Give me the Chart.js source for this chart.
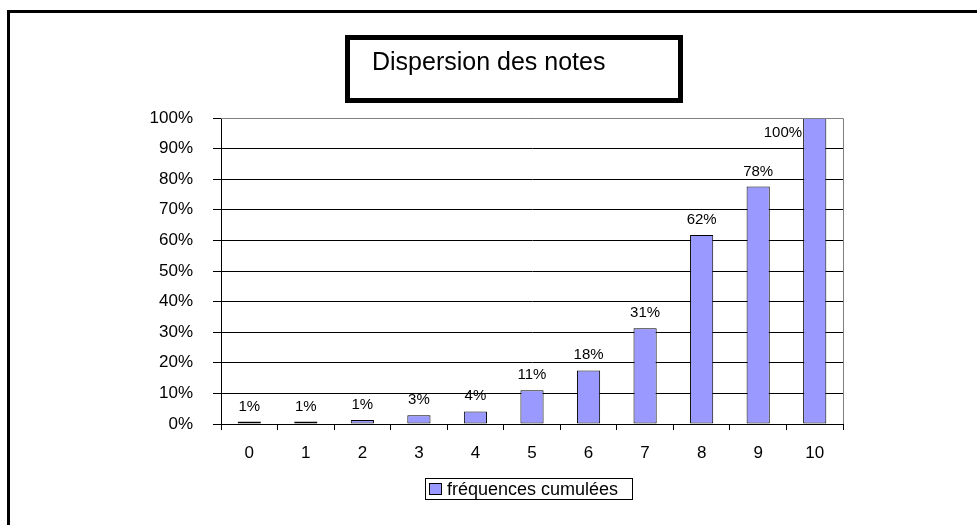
<!DOCTYPE html>
<html>
<head>
<meta charset="utf-8">
<script src="https://cdn.jsdelivr.net/npm/chart.js@4/dist/chart.umd.min.js"></script>
<style>
  html,body{margin:0;padding:0;background:#fff;}
  #wrap{position:relative;width:977px;height:525px;}
</style>
</head>
<body>
<div id="wrap"><canvas id="chartNotes"></canvas></div>
<script>
// ================= DATA =================
const notes      = ["0","1","2","3","4","5","6","7","8","9","10"];
const freqCumul  = [0.8, 0.8, 1.3, 2.9, 4.1, 11, 17.5, 31.3, 61.8, 77.6, 100];
const serieLabel = "fréquences cumulées";
const titre      = "Dispersion des notes";

const FONT = "Arial, 'Liberation Sans', sans-serif";
const barColor = "#9999FF";

// ================= DECOR (cadre, titre, legende, bord gris) =================
const decor = {
  id:"decor",
  beforeDraw(chart){
    const c = chart.ctx;
    c.save();
    // cadre exterieur
    c.strokeStyle="#000"; c.lineWidth=3;
    c.strokeRect(8.5,11.5,1000,600);
    // boite du titre
    c.lineWidth=5;
    c.strokeRect(347.5,37.5,333,63);
    c.fillStyle="#000";
    c.font="25px "+FONT;
    c.textBaseline="alphabetic";
    c.textAlign="left";
    c.fillText(titre,372,70);
    c.restore();
  },
  afterDraw(chart){
    const c = chart.ctx, a = chart.chartArea;
    c.save();
    // bord haut + droit du plot en gris
    c.strokeStyle="#808080"; c.lineWidth=1;
    c.beginPath();
    c.moveTo(a.left,a.top+0.5); c.lineTo(a.right+0.5,a.top+0.5);
    c.lineTo(a.right+0.5,a.bottom);
    c.stroke();
    // legende
    const ds = chart.data.datasets[0];
    c.strokeStyle="#000";
    c.strokeRect(425.5,478.5,207,21);
    c.fillStyle=ds.backgroundColor;
    c.fillRect(429.5,483.5,12,11);
    c.strokeRect(429.5,483.5,12,11);
    c.fillStyle="#000";
    c.font="18px "+FONT;
    c.textBaseline="middle";
    c.fillText(ds.label,447,490);
    c.restore();
  }
};

// ================= ETIQUETTES DES BARRES =================
const etiquettes = {
  id:"etiquettes",
  afterDatasetsDraw(chart){
    const c = chart.ctx, a = chart.chartArea;
    const meta = chart.getDatasetMeta(0);
    const vals = chart.data.datasets[0].data;
    c.save();
    c.fillStyle="#000";
    c.font="15px "+FONT;
    c.textBaseline="alphabetic";
    meta.data.forEach((bar,i)=>{
      const txt = Math.round(vals[i])+"%";
      const y = bar.y-11;
      if(y-12 < a.top){
        // pas de place au-dessus : a gauche de la barre
        c.textAlign="right";
        c.fillText(txt,bar.x-bar.width/2-1,a.top+19);
      }else{
        c.textAlign="center";
        c.fillText(txt,bar.x,y);
      }
    });
    c.restore();
  }
};

// ================= CHART =================
new Chart(document.getElementById("chartNotes"),{
  type:"bar",
  data:{
    labels:notes,
    datasets:[{
      label:serieLabel,
      data:freqCumul,
      backgroundColor:barColor,
      borderColor:"#000",
      borderWidth:1,
      borderSkipped:false,
      barPercentage:0.41,
      categoryPercentage:1
    }]
  },
  options:{
    responsive:true,
    maintainAspectRatio:false,
    animation:false,
    layout:{ padding:{ left:0, top:118, right:134, bottom:61 } },
    plugins:{
      legend:{ display:false },
      title:{ display:false },
      tooltip:{ enabled:false }
    },
    scales:{
      x:{
        afterFit:s=>{ s.height=40; },
        grid:{ drawOnChartArea:false, drawTicks:true, tickLength:6, color:"#000", offset:true },
        border:{ color:"#000", width:1 },
        ticks:{ color:"#000", padding:13, font:{ family:FONT, size:17 } }
      },
      y:{
        min:0, max:100,
        afterFit:s=>{ s.width=221; },
        grid:{ color:"#000", tickLength:8, drawTicks:true },
        border:{ color:"#000", width:1 },
        ticks:{
          stepSize:10,
          color:"#000",
          padding:20,
          font:{ family:FONT, size:17 },
          callback:v=>v+"%"
        }
      }
    }
  },
  plugins:[decor,etiquettes]
});
</script>
</body>
</html>
